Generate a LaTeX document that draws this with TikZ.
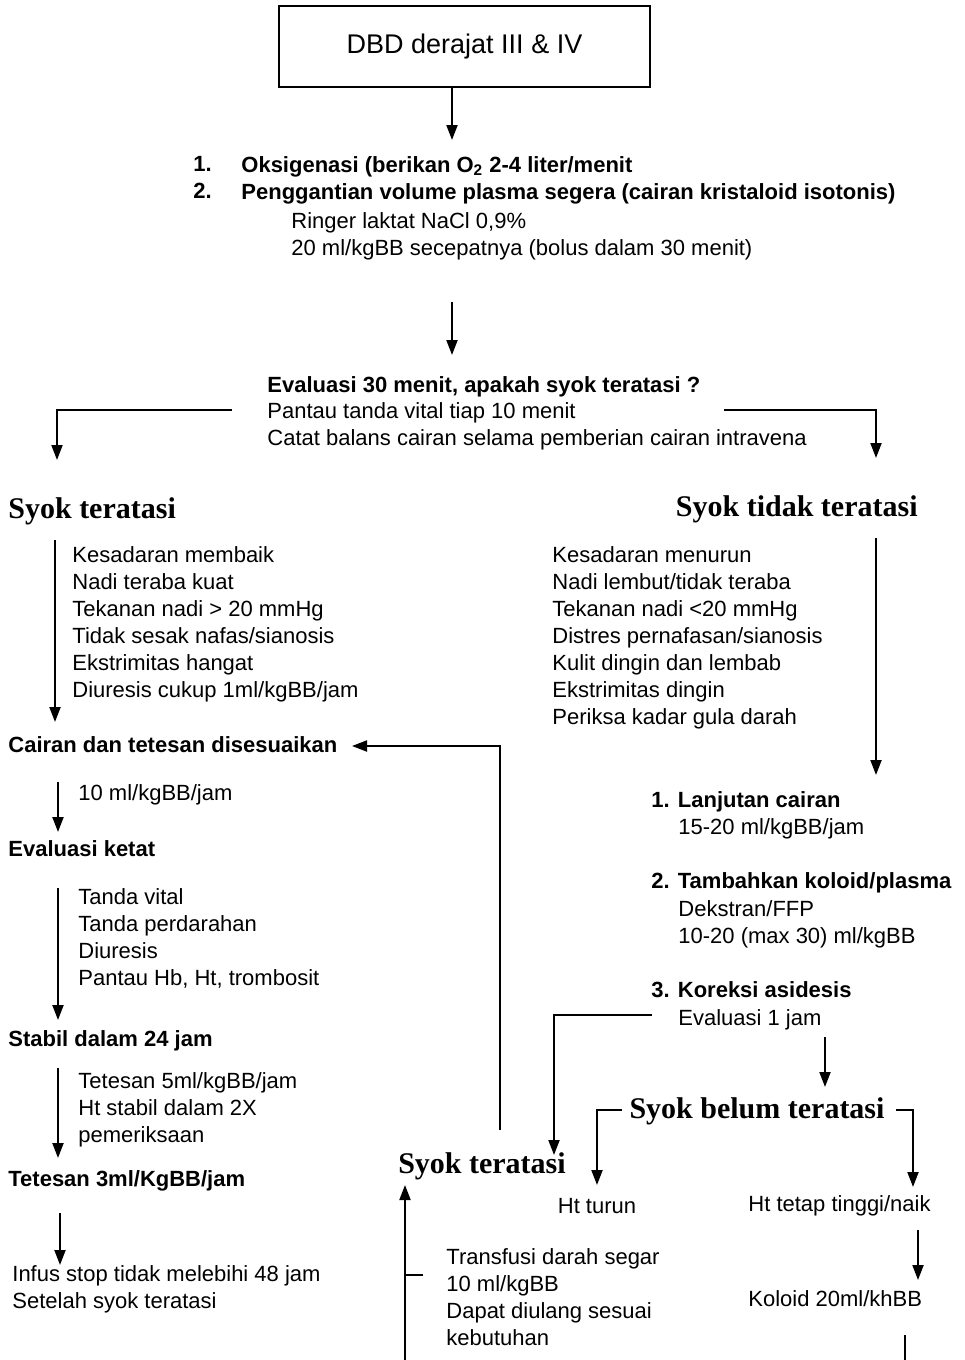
\documentclass[tikz,border=0pt]{standalone}
\usepackage{fontspec}
\setmainfont{Liberation Sans}
\newfontfamily\judulfont{Liberation Serif}
\usetikzlibrary{arrows.meta,positioning}
\tikzset{
  teks/.style={font=\fontsize{11}{13.5}\selectfont, align=left, inner sep=0pt,
               anchor=north west},
  tebal/.style={teks, font=\fontsize{11}{13.5}\selectfont\bfseries},
  judul/.style={font=\judulfont\fontsize{15}{18}\selectfont\bfseries, inner sep=0pt},
  kotak/.style={draw, line width=1pt, minimum width=185.5pt, minimum height=40.5pt,
                font=\fontsize{13.5}{16}\selectfont},
  ar/.style={-{Triangle[length=7.5pt,width=5.5pt]}, line width=1pt},
  garis/.style={line width=1pt},
}
\begin{document}
\begin{tikzpicture}[x=0.5pt, y=-0.5pt]
  \useasboundingbox (0,0) rectangle (964,1360);

  % --- awal ---
  \node[kotak] (dbd) at (464.5,46.5) {DBD derajat III \& IV};
  \coordinate (a1) at (452,140);
  \draw[ar] (dbd.south -| a1) -- (a1);

  \node[tebal] (nomor) at (193,156) {1.\\2.};
  \node[tebal] (terapi) at (241,156)
       {Oksigenasi (berikan O\textsubscript{2} 2-4 liter/menit\\
        Penggantian volume plasma segera (cairan kristaloid isotonis)};
  \node[teks] (ringer) at (291,212)
       {Ringer laktat NaCl 0,9\%\\20 ml/kgBB secepatnya (bolus dalam 30 menit)};

  \coordinate (a2a) at (452,302);
  \coordinate (a2b) at (452,355);
  \draw[ar] (a2a) -- (a2b);

  % --- evaluasi 30 menit ---
  \node[tebal] (eval) at (267,376) {Evaluasi 30 menit, apakah syok teratasi ?};
  \node[teks] (pantau) at (267,402)
       {Pantau tanda vital tiap 10 menit\\
        Catat balans cairan selama pemberian cairan intravena};
  \coordinate (kiri) at (232,410);
  \coordinate (kanan) at (724,410);
  \draw[ar] (kiri) -- (57,410) -- (57,460);
  \draw[ar] (kanan) -- (876,410) -- (876,458);

  \node[judul, anchor=west] (teratasi) at (8,511) {Syok teratasi};
  \node[judul, anchor=east] (tidak) at (918,509) {Syok tidak teratasi};

  % --- cabang kiri: syok teratasi ---
  \node[teks] (tanda1) at (72,546)
       {Kesadaran membaik\\Nadi teraba kuat\\Tekanan nadi > 20 mmHg\\
        Tidak sesak nafas/sianosis\\Ekstrimitas hangat\\Diuresis cukup 1ml/kgBB/jam};
  \draw[ar] (55,540) -- (55,722);

  \node[tebal] (cairan) at (8,736) {Cairan dan tetesan disesuaikan};
  \draw[ar] (58,782) -- (58,832);
  \node[teks] (dosis1) at (78,784) {10 ml/kgBB/jam};

  \node[tebal] (ketat) at (8,840) {Evaluasi ketat};
  \draw[ar] (58,888) -- (58,1020);
  \node[teks] (tanda2) at (78,888)
       {Tanda vital\\Tanda perdarahan\\Diuresis\\Pantau Hb, Ht, trombosit};

  \node[tebal] (stabil) at (8,1030) {Stabil dalam 24 jam};
  \draw[ar] (58,1068) -- (58,1158);
  \node[teks] (tetes5) at (78,1072)
       {Tetesan 5ml/kgBB/jam\\Ht stabil dalam 2X\\pemeriksaan};

  \node[tebal] (tetes3) at (8,1170) {Tetesan 3ml/KgBB/jam};
  \draw[ar] (60,1213) -- (60,1265);
  \node[teks] (stop) at (12,1265)
       {Infus stop tidak melebihi 48 jam\\Setelah syok teratasi};

  % --- cabang kanan: syok tidak teratasi ---
  \node[teks] (tanda3) at (552,546)
       {Kesadaran menurun\\Nadi lembut/tidak teraba\\Tekanan nadi <20 mmHg\\
        Distres pernafasan/sianosis\\Kulit dingin dan lembab\\Ekstrimitas dingin\\
        Periksa kadar gula darah};
  \draw[ar] (876,538) -- (876,775);

  \node[tebal] (lanjut) at (651,791) {1. Lanjutan cairan};
  \node[teks] (dosis2) at (678,818) {15-20 ml/kgBB/jam};
  \node[tebal] (koloid) at (651,872) {2. Tambahkan koloid/plasma};
  \node[teks] (dekstran) at (678,900) {Dekstran/FFP\\10-20 (max 30) ml/kgBB};
  \node[tebal] (asidosis) at (651,981) {3. Koreksi asidesis};
  \node[teks] (eval1) at (678,1009) {Evaluasi 1 jam};

  \coordinate (b1) at (652,1015);
  \draw[ar] (b1) -- (554,1015) -- (554,1155);
  \draw[ar] (825,1037) -- (825,1087);

  \node[judul] (belum) at (757,1111) {Syok belum teratasi};
  \draw[ar] (622,1110) -- (597,1110) -- (597,1185);
  \draw[ar] (896,1110) -- (913,1110) -- (913,1187);

  \node[judul] (teratasi2) at (482,1166) {Syok teratasi};

  \node[teks, anchor=center] (turun) at (597,1206) {Ht turun};
  \node[teks, anchor=west] (naik) at (748,1206) {Ht tetap tinggi/naik};
  \draw[ar] (918,1230) -- (918,1280);
  \node[teks, anchor=west] (koloid2) at (748,1299) {Koloid 20ml/khBB};
  \draw[garis] (905,1335) -- (905,1360);

  % --- transfusi dan umpan balik ---
  \draw[ar] (405,1360) -- (405,1185);
  \draw[garis] (405,1275) -- (423,1275);
  \node[teks] (transfusi) at (446,1248)
       {Transfusi darah segar\\10 ml/kgBB\\Dapat diulang sesuai\\kebutuhan};
  \coordinate (c1) at (352,746);
  \draw[ar] (500,1130) |- (c1);
\end{tikzpicture}
\end{document}
